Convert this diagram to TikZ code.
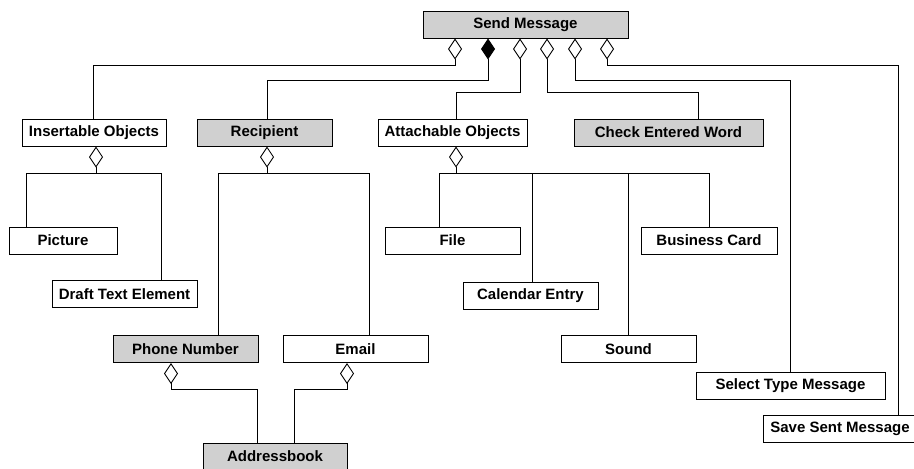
\documentclass[tikz,border=0pt]{standalone}
\usepackage{fontspec}
\setmainfont{Liberation Sans}
\usetikzlibrary{arrows.meta}
\definecolor{boxgray}{RGB}{208,208,208}
\begin{document}
\begin{tikzpicture}[x=1pt,y=-1pt,
  cls/.style={draw,line width=1pt,minimum height=27pt,inner sep=0pt,
    font=\fontsize{15}{17}\selectfont\bfseries,fill=white},
  shaded/.style={cls,fill=boxgray},
  link/.style={line width=0.9pt},
  agg/.style={link,{Diamond[open,length=21pt,width=14pt]}-},
  comp/.style={link,{Diamond[length=21pt,width=14pt]}-}]
\useasboundingbox (0,0) rectangle (914,469);

% classes
\node[shaded,minimum width=205pt] (send) at (525.5,24.5) {Send Message};
\node[cls,minimum width=144pt] (ins) at (94,132.5) {Insertable Objects};
\node[shaded,minimum width=135pt] (rec) at (264.5,132.5) {Recipient};
\node[cls,minimum width=149pt] (att) at (452.5,132.5) {Attachable Objects};
\node[shaded,minimum width=189pt] (chk) at (668.5,132.5) {Check Entered Word};
\node[cls,minimum width=108pt] (pic) at (63,240.5) {Picture};
\node[cls,minimum width=145pt] (dte) at (124.5,294) {Draft Text Element};
\node[cls,minimum width=135pt] (file) at (452.5,240.5) {File};
\node[cls,minimum width=136pt] (card) at (709,240.5) {Business Card};
\node[cls,minimum width=135pt] (cal) at (530.5,295.5) {Calendar Entry};
\node[shaded,minimum width=145pt] (phone) at (185.5,349) {Phone Number};
\node[cls,minimum width=145pt] (mail) at (355.5,349) {Email};
\node[cls,minimum width=135pt] (snd) at (628.5,349) {Sound};
\node[cls,minimum width=189pt] (sel) at (790.5,386) {Select Type Message};
\node[cls,minimum width=154pt] (save) at (840,428.5) {Save Sent Message};
\node[shaded,minimum width=144pt] (addr) at (275,456.5) {Addressbook};

% parts of Send Message
\draw[agg]  ([xshift=-70.5pt]send.south) -- ++(0,27) -| ([xshift=-1pt]ins.north);
\draw[comp] ([xshift=-37.5pt]send.south) -- ++(0,42) -| ([xshift=2.5pt]rec.north);
\draw[agg]  ([xshift=-5.5pt]send.south) -- ++(0,54) -| ([xshift=3.5pt]att.north);
\draw[agg]  ([xshift=21.5pt]send.south) -- ++(0,54) -| ([xshift=29.5pt]chk.north);
\draw[agg]  ([xshift=49.5pt]send.south) -- ++(0,42) -| ([xshift=-0.5pt]sel.north);
\draw[agg]  ([xshift=81.5pt]send.south) -- ++(0,27) -| ([xshift=58pt]save.north);

% insertable objects
\draw[agg] ([xshift=2pt]ins.south) -- ++(0,27) coordinate (insj);
\draw[link] (insj) -| ([xshift=-37pt]pic.north);
\draw[link] (insj) -| ([xshift=36.5pt]dte.north);

% recipient
\draw[agg] ([xshift=2.5pt]rec.south) -- ++(0,27) coordinate (recj);
\draw[link] (recj) -| ([xshift=32.5pt]phone.north);
\draw[link] (recj) -| ([xshift=13.5pt]mail.north);

% attachable objects
\draw[agg] ([xshift=3.5pt]att.south) -- ++(0,27) coordinate (attj);
\draw[link] (attj) -| ([xshift=-13.5pt]file.north);
\draw[link] (attj) -| ([xshift=1.5pt]cal.north);
\draw[link] (attj) -| (snd.north);
\draw[link] (attj) -| (card.north);

% addressbook
\draw[agg] ([xshift=-14.5pt]phone.south) -- ++(0,26) -| ([xshift=-18pt]addr.north);
\draw[agg] ([xshift=-8.5pt]mail.south) -- ++(0,26) -| ([xshift=19pt]addr.north);
\end{tikzpicture}
\end{document}
